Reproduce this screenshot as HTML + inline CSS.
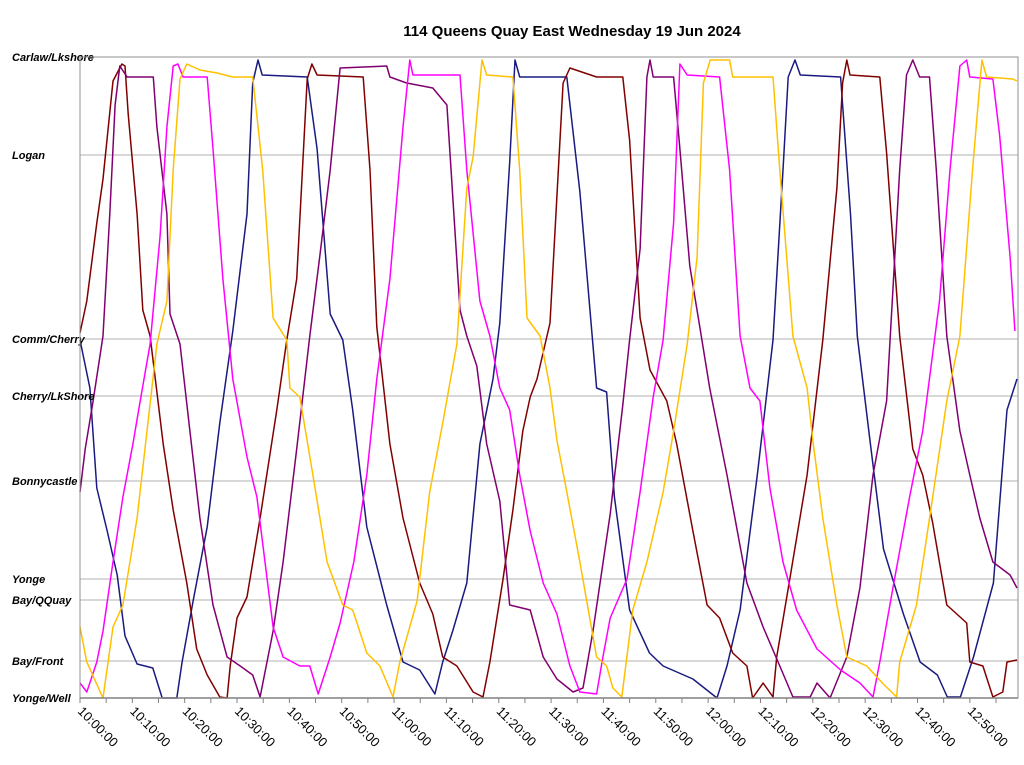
<!DOCTYPE html>
<html><head><meta charset="utf-8">
<style>
body{margin:0;background:#fff;}
svg{display:block;font-family:"Liberation Sans",Arial,sans-serif;}
</style></head>
<body>
<svg id="chart" width="1024" height="765" xmlns="http://www.w3.org/2000/svg">
<text x="572" y="36" text-anchor="middle" font-size="15" font-weight="bold">114 Queens Quay East Wednesday 19 Jun 2024</text>
<g id="grid"></g>
<g id="series"></g>
<g id="axes"></g>
</svg>
<script>
const stationNames = ["Yonge/Well","Bay/Front","Bay/QQuay","Yonge","Bonnycastle","Cherry/LkShore","Comm/Cherry","Logan","Carlaw/Lkshore"];
const stationPos = [0,37,98,119,217,302,359,543,641];
const tickLabels = ["10:00:00","10:10:00","10:20:00","10:30:00","10:40:00","10:50:00","11:00:00","11:10:00","11:20:00","11:30:00","11:40:00","11:50:00","12:00:00","12:10:00","12:20:00","12:30:00","12:40:00","12:50:00"];
const seriesColors = ["#1a1a80","#800000","#800070","#ff00ff","#ffc000"];
const seriesNames = ["navy","maroon","purple","magenta","gold"];

const navyT=[0,1.9,3.2,5.2,7.1,8.6,10.9,13.9,15.7,18.5,19.5,21.6,24.3,26.7,29.2,31.9,33.0,34.0,34.8,43.4,45.3,47.8,50.2,52.1,54.8,58.6,61.7,64.9,67.8,69.3,71.2,73.9,76.4,78.9,80.2,82.1,83.1,84.0,93.0,95.5,98.7,100.6,102.1,105.0,108.8,111.4,117.1,121.7,123.6,126.1,129.4,132.4,134.3,135.3,136.6,137.6,145.3,147.2,148.5,151.0,153.5,157.3,160.5,163.8,165.7,168.2,170.7,174.5,177.1,179.0];
const navyP=[358,310,210,167,123,62,34,30,0,0,36,97,171,275,367,484,615,638,623,621,549,384,358,288,171,93,36,28,4,36,67,115,254,319,375,536,638,621,621,506,310,306,201,88,45,32,19,0,32,88,223,358,528,621,638,623,621,484,362,254,149,84,36,23,1,1,41,115,288,319];

const maroonT=[0,1.3,3.2,4.4,6.3,8.0,8.6,9.2,10.9,12.0,13.4,15.9,17.8,20.4,22.3,24.3,26.7,28.1,28.7,30.0,31.9,34.4,37.6,39.5,41.4,43.4,44.3,45.3,54.1,55.4,56.7,59.2,61.7,64.9,67.4,69.3,72.0,75.1,77.0,78.3,80.8,82.7,84.6,86.0,87.3,89.8,92.3,93.6,98.7,103.7,105.0,107.0,108.9,112.1,114.0,117.1,119.8,122.2,124.7,127.4,128.5,130.5,132.4,133.1,135.6,138.9,141.9,144.6,145.7,146.5,147.1,152.8,154.1,156.6,159.1,161.0,162.9,165.6,169.4,170.0,172.5,174.4,176.3,177.1,179.0];
const maroonP=[365,397,475,519,617,634,632,584,484,388,362,254,188,115,49,23,1,0,32,80,101,180,288,358,419,619,634,623,621,528,371,254,180,115,84,41,32,6,1,36,118,188,267,301,319,375,615,630,621,621,558,380,328,297,254,167,93,80,45,32,0,15,1,41,119,223,358,510,615,638,623,621,545,362,249,223,175,93,75,36,32,1,6,36,38];

const purpleT=[0,1.0,2.5,4.4,5.7,6.7,7.6,9.0,14.0,14.7,16.6,17.2,19.1,21.0,22.9,25.4,28.1,30.6,33.0,34.4,36.9,38.8,41.4,43.9,45.8,47.8,49.7,58.6,59.2,62.4,67.4,70.1,72.6,73.9,75.8,77.7,80.2,82.1,86.0,88.5,91.1,94.2,96.1,98.0,101.3,103.7,105.0,107.0,108.3,108.9,109.5,113.4,114.6,116.5,118.4,120.3,123.6,127.4,130.5,133.7,136.2,139.5,140.8,143.3,146.5,149.0,151.5,154.1,156.6,157.9,159.1,160.4,162.3,163.6,165.6,168.1,170.0,171.9,174.4,177.7,179.0];
const purpleP=[206,249,297,362,484,593,632,621,621,571,484,384,354,267,180,93,41,32,23,1,67,136,249,362,441,528,630,632,621,615,610,593,388,362,332,254,197,93,88,41,19,6,10,67,184,293,358,449,621,638,621,621,549,432,371,310,223,115,71,32,1,1,15,0,41,110,223,297,528,623,638,621,621,528,362,267,223,180,136,123,110];

const magentaT=[0,1.3,3.2,4.4,6.3,8.2,10.1,11.5,13.4,15.3,16.6,17.8,18.7,19.7,24.3,25.4,27.3,29.2,31.9,33.8,36.9,38.8,42.0,43.9,45.5,47.8,49.7,52.3,54.8,56.7,59.2,61.7,63.0,63.6,72.6,73.9,76.4,78.3,80.2,82.1,84.0,86.0,88.5,91.1,93.6,95.5,98.7,99.9,101.3,104.5,107.0,109.5,111.4,113.4,114.6,116.0,122.2,124.1,126.1,128.0,129.9,131.8,134.3,136.9,140.8,145.3,149.0,151.5,152.8,155.3,158.5,161.0,164.2,166.2,168.1,169.4,170.0,174.4,175.7,177.7,178.6];
const magentaP=[15,6,36,67,136,201,254,297,354,462,571,632,634,621,621,549,419,319,241,201,71,41,32,32,4,41,75,136,223,319,419,571,638,623,623,528,397,362,310,288,223,167,115,84,32,6,4,41,80,119,206,301,358,475,634,623,621,528,362,310,297,210,136,88,49,28,15,1,36,110,201,267,397,528,632,638,621,619,562,441,367];

const goldT=[0,1.3,4.4,6.3,8.2,10.9,12.8,14.7,16.6,17.8,19.1,20.4,22.9,26.2,29.2,33.0,34.9,36.9,39.5,40.1,42.0,44.5,47.2,50.2,52.1,54.8,57.3,59.8,61.1,64.4,66.8,69.3,72.0,73.9,75.1,76.8,77.7,82.7,84.0,85.4,87.9,89.8,91.1,93.0,95.5,96.8,98.7,100.6,101.8,103.5,105.6,108.3,111.4,113.4,116.0,117.9,119.1,120.4,124.1,124.7,132.4,133.7,136.2,138.9,140.0,141.9,144.6,146.5,150.3,153.3,156.0,156.6,159.8,162.9,165.6,168.1,170.5,172.3,173.2,178.2,179.0];
const goldP=[71,36,0,71,93,180,267,354,397,528,619,634,628,625,621,621,528,380,358,310,301,223,136,93,88,45,32,1,36,97,206,275,354,510,541,638,623,621,528,380,362,310,258,206,136,97,41,32,10,1,88,136,206,267,354,441,615,638,638,621,621,528,362,310,258,180,93,41,32,15,1,36,93,201,297,362,528,638,621,619,617];

const NS="http://www.w3.org/2000/svg";
const X0=80,X1=1018,Y0=698,Y1=57,TMAX=179.2,PMAX=641;
function xs(t){return X0+t*(X1-X0)/TMAX;}
function ys(p){return Y0-p*(Y0-Y1)/PMAX;}
function mk(tag,attrs,parent){const e=document.createElementNS(NS,tag);for(const k in attrs)e.setAttribute(k,attrs[k]);parent.appendChild(e);return e;}
const grid=document.getElementById('grid'),axes=document.getElementById('axes'),ser=document.getElementById('series');

stationNames.forEach((n,i)=>{
  const y=ys(stationPos[i]);
  const l=mk('line',{x1:X0,x2:X1,y1:y,y2:y,stroke:'#b0b0b0','stroke-width':1},grid);
  
  
  const t=mk('text',{x:12,y:y+4,'font-size':11,'font-weight':'bold','font-style':'italic'},axes);
  t.textContent=n;
  
  
});
const frame=mk('rect',{x:X0,y:Y1,width:X1-X0,height:Y0-Y1,fill:'none',stroke:'#909090','stroke-width':1},axes);


const xa=mk('line',{x1:X0,x2:X1,y1:Y0,y2:Y0,stroke:'#808080','stroke-width':1.5},axes);


for(let m=0;m<=175;m+=5){
  const tk=mk('line',{x1:xs(m),x2:xs(m),y1:Y0,y2:Y0+5,stroke:'#808080'},axes);
  
  
}
tickLabels.forEach((lab,i)=>{
  const x=xs(i*10);
  const t=mk('text',{x:x-3,y:Y0+14,'font-size':13,transform:`rotate(45 ${x-3} ${Y0+14})`},axes);
  t.textContent=lab;
  
  
});
const allT=[navyT,maroonT,purpleT,magentaT,goldT],allP=[navyP,maroonP,purpleP,magentaP,goldP];
allT.forEach((T,s)=>{
  const P=allP[s],n=Math.min(T.length,P.length);
  let d='';
  for(let i=0;i<n;i++)d+=(i?'L':'M')+xs(T[i]).toFixed(1)+','+ys(P[i]).toFixed(1);
  const p=mk('path',{d:d,fill:'none',stroke:seriesColors[s],'stroke-width':1.5,'stroke-linejoin':'round'},ser);
  
  
});
</script>
</body></html>
